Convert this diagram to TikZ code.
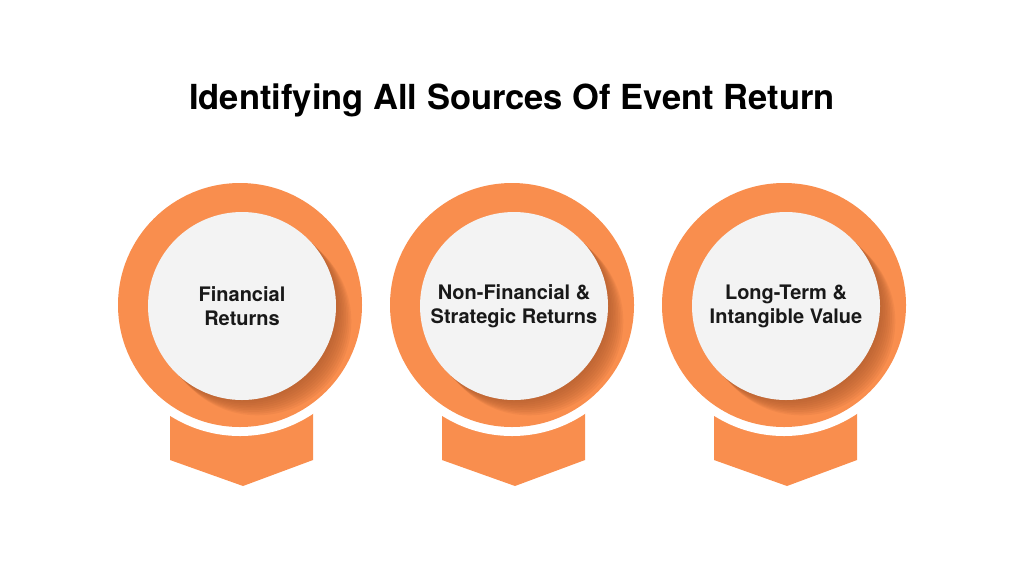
\documentclass[tikz,border=0pt]{standalone}
\usepackage{fontspec}
\setmainfont{TeX Gyre Heros}
\definecolor{ringorange}{HTML}{F98E4E}
\definecolor{shadeorange}{HTML}{A8572A}
\definecolor{discgray}{HTML}{F3F3F3}
\begin{document}
\begin{tikzpicture}[x=1pt, y=-1pt, semithick]
  \tikzstyle{ring} = [circle, fill=ringorange, minimum size=244pt, inner sep=0pt]
  \tikzstyle{disc} = [circle, fill=discgray, minimum size=188pt, inner sep=0pt,
    font=\fontsize{20}{24}\selectfont\bfseries, align=center, text=black!90]
  \tikzstyle{tail} = [fill=ringorange]

  \useasboundingbox (0,0) rectangle (1024,576);

  % Title
  \node [font=\fontsize{34.5}{40}\selectfont\bfseries] (title) at (512,100)
        {Identifying All Sources Of Event Return};

  % Rings, tails and discs
  \foreach \cx/\name/\txt in {240/fin/{Financial\\Returns},
      512/nonfin/{Non-Financial \&\\Strategic Returns},
      784/longterm/{Long-Term \&\\Intangible Value}} {
    \path [tail] (\cx-70,412) -- (\cx+73,412) -- (\cx+73,460)
          -- (\cx+3,486) -- (\cx-70,460) -- cycle;
    \fill [white] (\cx,305) circle (131);
    \node [ring] (\name ring) at (\cx,305) {};
    \foreach \k in {1,...,9}
      \fill [shadeorange, opacity=0.11] (\cx+2+1.7*\k,306+1.7*\k) circle (94);
    \node [disc] (\name) at (\cx+2,306) {\txt};
  }
\end{tikzpicture}
\end{document}
